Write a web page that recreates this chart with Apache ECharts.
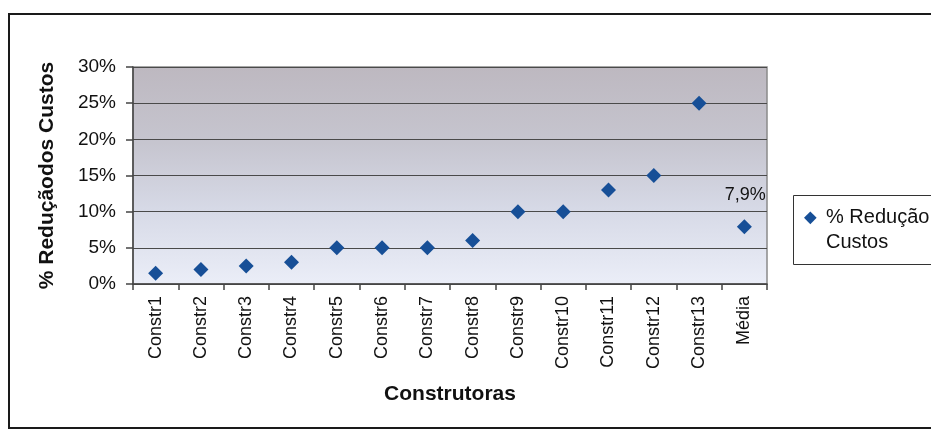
<!DOCTYPE html>
<html>
<head>
<meta charset="utf-8">
<script src="https://cdn.jsdelivr.net/npm/echarts@6/dist/echarts.min.js"></script>
<style>
  html, body { margin: 0; padding: 0; background: #ffffff; }
  #chart { width: 931px; height: 432px; }
</style>
</head>
<body>
<div id="chart"></div>
<script>
// Builders and their cost reduction (percent)
const categories = ['Constr1', 'Constr2', 'Constr3', 'Constr4', 'Constr5', 'Constr6', 'Constr7',
  'Constr8', 'Constr9', 'Constr10', 'Constr11', 'Constr12', 'Constr13', 'Média'];
const reducao = [1.5, 2, 2.5, 3, 5, 5, 5, 6, 10, 10, 13, 15, 25, 7.9];
const yTicks = { min: 0, max: 30, step: 5 };
const seriesName = '% Redução\nCustos';

const FONT = 'Liberation Sans, Arial, sans-serif';
const fmtPct = v => String(v).replace('.', ',') + '%';

// Only the average point carries a value label
const points = reducao.map((v, i) => {
  const item = { value: v };
  if (categories[i] === 'Média') {
    item.label = {
      show: true,
      position: 'top',
      offset: [1, -10],
      formatter: p => fmtPct(p.value),
      color: '#111',
      fontFamily: FONT,
      fontSize: 18
    };
  }
  return item;
});

const chart = echarts.init(document.getElementById('chart'), null, { renderer: 'canvas' });

chart.setOption({
  backgroundColor: '#ffffff',
  animation: false,
  textStyle: { fontFamily: FONT },
  graphic: [
    {
      // outer chart frame, running past the right edge of the page
      type: 'rect',
      z: -10,
      shape: { x: 9, y: 14, width: 950, height: 414 },
      style: { fill: 'none', stroke: '#1a1a1a', lineWidth: 2 }
    },
    {
      // legend frame, also cut by the right edge
      type: 'rect',
      z: -5,
      shape: { x: 793.5, y: 195.5, width: 200, height: 69 },
      style: { fill: '#ffffff', stroke: '#333', lineWidth: 1 }
    }
  ],
  grid: {
    left: 133, right: 164, top: 67, bottom: 148,
    show: true,
    borderColor: '#8a8a8a',
    borderWidth: 1.5,
    backgroundColor: {
      type: 'linear', x: 0, y: 0, x2: 0, y2: 1,
      colorStops: [
        { offset: 0, color: '#bdb8c0' },
        { offset: 0.35, color: '#c6c5cf' },
        { offset: 0.65, color: '#d6d9e6' },
        { offset: 1, color: '#ebeef8' }
      ]
    }
  },
  legend: {
    show: true,
    left: 793,
    top: 195,
    orient: 'vertical',
    padding: [10, 0, 8, 11],
    borderWidth: 0,
    itemWidth: 17,
    itemHeight: 50,
    icon: 'path://M6,6L12.5,12.5L6,19L-0.5,12.5Z M0,0L0,0 M17,50L17,50',
    textStyle: { color: '#111', fontSize: 20, lineHeight: 25, fontFamily: FONT },
    data: [seriesName]
  },
  xAxis: {
    type: 'category',
    data: categories,
    boundaryGap: true,
    name: 'Construtoras',
    nameLocation: 'middle',
    nameGap: 100,
    nameTextStyle: { color: '#111', fontSize: 21, fontWeight: 'bold', fontFamily: FONT },
    axisLine: { show: true, lineStyle: { color: '#444', width: 1.5 } },
    axisTick: { show: true, length: 6, alignWithLabel: false, lineStyle: { color: '#444', width: 1.5 } },
    axisLabel: { rotate: 90, margin: 12, color: '#111', fontSize: 18, fontFamily: FONT, interval: 0 },
    splitLine: { show: false }
  },
  yAxis: {
    type: 'value',
    min: yTicks.min,
    max: yTicks.max,
    interval: yTicks.step,
    name: '% Reduçãodos Custos',
    nameLocation: 'middle',
    nameGap: 75,
    nameTextStyle: { color: '#111', fontSize: 21, fontWeight: 'bold', fontFamily: FONT },
    axisLine: { show: true, lineStyle: { color: '#444', width: 1.5 } },
    axisTick: { show: true, length: 7, lineStyle: { color: '#444', width: 1.5 } },
    axisLabel: { margin: 17, color: '#111', fontSize: 19, fontFamily: FONT, formatter: v => v + '%' },
    splitLine: { show: true, lineStyle: { color: '#4a4a4a', width: 1 } }
  },
  series: [{
    name: seriesName,
    type: 'scatter',
    symbol: 'diamond',
    symbolSize: 15,
    itemStyle: { color: '#174f97', opacity: 1 },
    data: points
  }]
});
</script>
</body>
</html>
